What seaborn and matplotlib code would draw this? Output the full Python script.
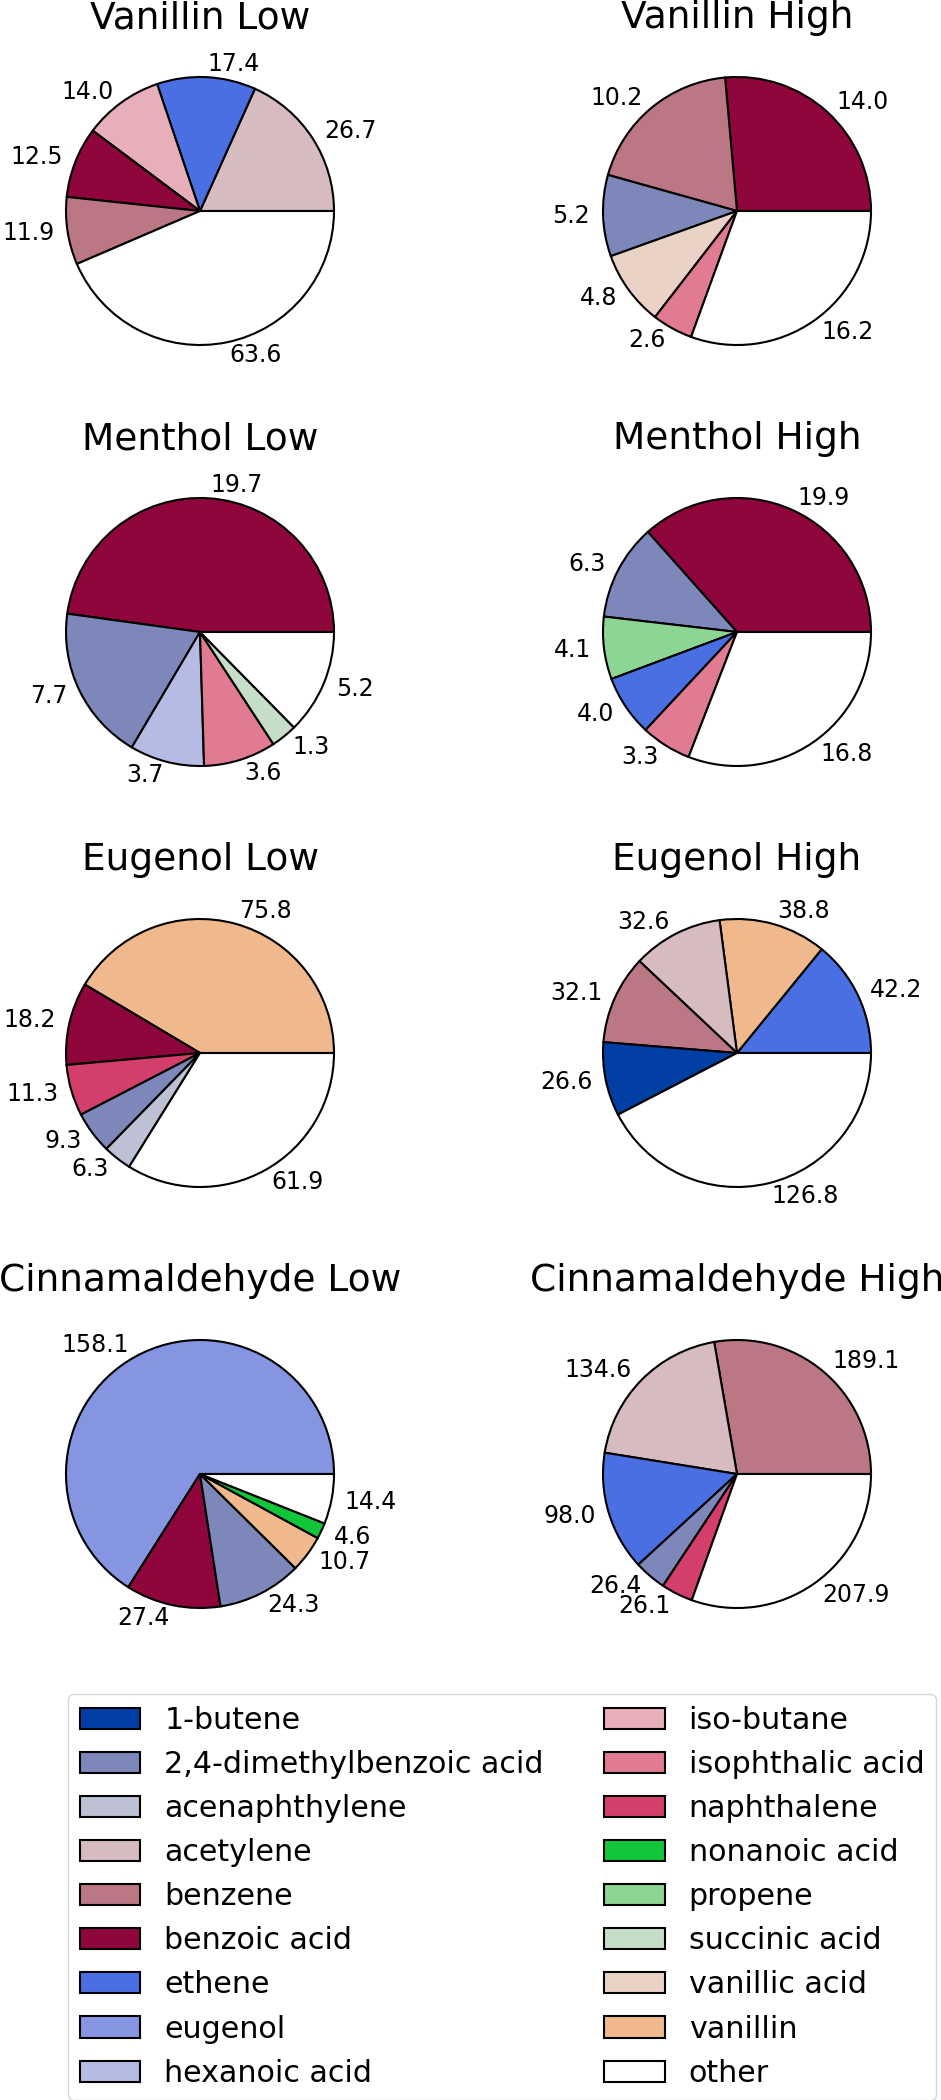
"""
Pie charts of the top gas / product species for each flavour at low and high dose
"""

import matplotlib
matplotlib.use("Agg")
import matplotlib.pyplot as plt
import seaborn as sns
from matplotlib.patches import Patch

# legend order and colours (zeileis style palette, "other" in white)
chemicals = ["1-butene", "2,4-dimethylbenzoic acid", "acenaphthylene", "acetylene", "benzene",
             "benzoic acid", "ethene", "eugenol", "hexanoic acid", "iso-butane", "isophthalic acid",
             "naphthalene", "nonanoic acid", "propene", "succinic acid", "vanillic acid", "vanillin", "other"]
chem_colours = ["#023fa5", "#7d87b9", "#bec1d4", "#d6bcc0", "#bb7784", "#8e063b", "#4a6fe3", "#8595e1",
                "#b5bbe3", "#e6afb9", "#e07b91", "#d33f6a", "#11c638", "#8dd593", "#c6dec7", "#ead3c6",
                "#f0b98d", "#ffffff"]

panel_titles = ["Vanillin Low", "Vanillin High", "Menthol Low", "Menthol High",
                "Eugenol Low", "Eugenol High", "Cinnamaldehyde Low", "Cinnamaldehyde High"]

vanillin_low_species = ["acetylene", "ethene", "iso-butane", "benzoic acid", "benzene", "other"]
vanillin_low_values = [26.7, 17.4, 14.0, 12.5, 11.9, 63.6]

vanillin_high_species = ["benzoic acid", "benzene", "2,4-dimethylbenzoic acid", "vanillic acid",
                         "isophthalic acid", "other"]
vanillin_high_values = [14.0, 10.2, 5.2, 4.8, 2.6, 16.2]

menthol_low_species = ["benzoic acid", "2,4-dimethylbenzoic acid", "hexanoic acid", "isophthalic acid",
                       "succinic acid", "other"]
menthol_low_values = [19.7, 7.7, 3.7, 3.6, 1.3, 5.2]

menthol_high_species = ["benzoic acid", "2,4-dimethylbenzoic acid", "propene", "ethene",
                        "isophthalic acid", "other"]
menthol_high_values = [19.9, 6.3, 4.1, 4.0, 3.3, 16.8]

eugenol_low_species = ["vanillin", "benzoic acid", "naphthalene", "2,4-dimethylbenzoic acid",
                       "acenaphthylene", "other"]
eugenol_low_values = [75.8, 18.2, 11.3, 9.3, 6.3, 61.9]

eugenol_high_species = ["ethene", "vanillin", "acetylene", "benzene", "1-butene", "other"]
eugenol_high_values = [42.2, 38.8, 32.6, 32.1, 26.6, 126.8]

cinnamaldehyde_low_species = ["eugenol", "benzoic acid", "2,4-dimethylbenzoic acid", "vanillin",
                              "nonanoic acid", "other"]
cinnamaldehyde_low_values = [158.1, 27.4, 24.3, 10.7, 4.6, 14.4]

cinnamaldehyde_high_species = ["benzene", "acetylene", "ethene", "2,4-dimethylbenzoic acid",
                               "naphthalene", "other"]
cinnamaldehyde_high_values = [189.1, 134.6, 98.0, 26.4, 26.1, 207.9]

panel_species = [vanillin_low_species, vanillin_high_species, menthol_low_species, menthol_high_species,
                 eugenol_low_species, eugenol_high_species, cinnamaldehyde_low_species,
                 cinnamaldehyde_high_species]
panel_values = [vanillin_low_values, vanillin_high_values, menthol_low_values, menthol_high_values,
                eugenol_low_values, eugenol_high_values, cinnamaldehyde_low_values,
                cinnamaldehyde_high_values]

sns.set_style("white")
plt.rcParams['font.family'] = ['DejaVu Sans']
plt.rcParams['text.color'] = 'black'
plt.rcParams['axes.titlecolor'] = 'black'

palette = dict(zip(chemicals, sns.color_palette(chem_colours)))

W, H = 941, 2100
fig = plt.figure(figsize=(W / 100, H / 100), dpi=100)

# pie centres in pixels, axes box is 2.5 radii wide
centres_x = [200, 737]
centres_y = [211, 632, 1053, 1474]
box = 335

for i, (title, species, values) in enumerate(zip(panel_titles, panel_species, panel_values)):
    cx = centres_x[i % 2]
    cy = centres_y[i // 2]
    ax = fig.add_axes([(cx - box / 2) / W, 1 - (cy + box / 2) / H, box / W, box / H])
    ax.pie(values, labels=[f"{v:.1f}" for v in values], colors=[palette[s] for s in species],
           wedgeprops=dict(edgecolor='black', linewidth=1.5), textprops=dict(fontsize=17, color='black'))
    ax.set_title(title, fontsize=27, pad=11, color='black')

handles = [Patch(facecolor=palette[c], edgecolor='black', linewidth=1.5, label=c) for c in chemicals]
fig.legend(handles=handles, loc='upper left', bbox_to_anchor=(68 / W, 1 - 1694 / H),
           borderaxespad=0, ncol=2, fontsize=21.7, labelcolor='black')

fig.savefig("out.png", dpi=100)
